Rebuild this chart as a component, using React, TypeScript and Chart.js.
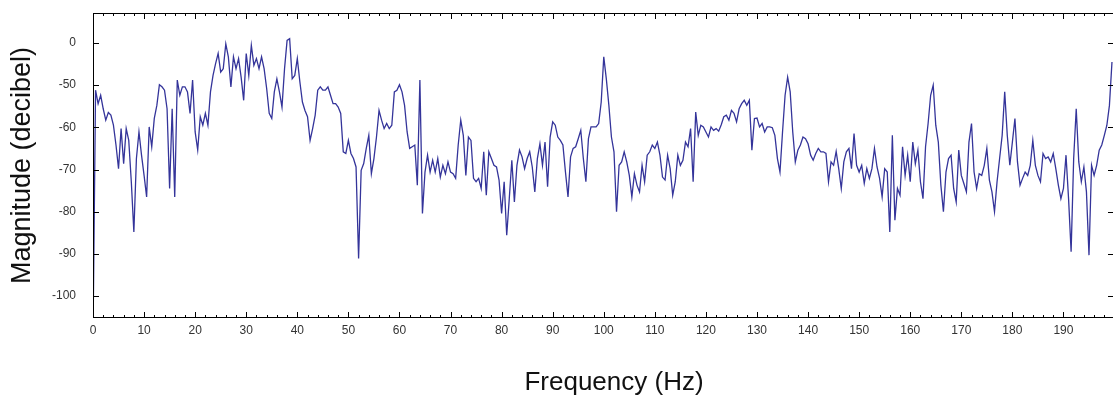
import React, { useEffect, useRef } from "react";
import { Chart, registerables } from "chart.js";

Chart.register(...registerables);

// Spectrum bins: 0.5 Hz resolution, magnitude in decibel
const binHz = 0.5;
const magnitude: number[] = [
  -110, -51.2, -54.4, -52.4, -55.6, -58.3, -56.5, -57.1, -59.5, -64.2,
  -69.8, -60.3, -68.6, -60.3, -63.1, -72.9, -84.8, -67.4, -61.1, -66.6,
  -71.4, -76.5, -59.9, -64.6, -57.9, -54.8, -49.9, -50.4, -51.2, -55.6,
  -74.5, -55.6, -76.5, -48.8, -52.4, -50.4, -50.4, -51.6, -56.7, -48.8,
  -61.1, -65.4, -57.5, -59.5, -56.7, -59.5, -51.6, -47.7, -44.9, -42.5,
  -46.9, -46.1, -40.2, -43.3, -50.4, -43.3, -46.1, -43.7, -48.1, -53.6,
  -42.5, -47.7, -40.6, -45.3, -43.7, -46.1, -43.3, -46.1, -50.8, -56.7,
  -57.9, -51.6, -48.5, -51.6, -55.2, -46.1, -39.4, -39.0, -48.5, -47.7,
  -43.7, -49.2, -54.0, -56.0, -57.5, -63.1, -60.3, -57.1, -51.2, -50.4,
  -51.2, -51.2, -50.4, -52.4, -54.4, -54.4, -55.2, -56.7, -65.8, -66.2,
  -63.1, -66.2, -67.4, -69.4, -91.1, -70.2, -68.6, -65.0, -61.9, -71.0,
  -67.4, -62.3, -56.0, -58.3, -60.3, -59.1, -60.3, -59.5, -51.6, -51.2,
  -49.9, -51.6, -54.8, -61.1, -65.0, -64.6, -64.2, -73.7, -48.8, -80.4,
  -70.6, -66.6, -70.6, -67.8, -70.6, -67.4, -71.8, -69.0, -71.0, -68.2,
  -70.6, -71.0, -72.1, -64.2, -58.3, -61.9, -71.4, -62.3, -63.1, -72.1,
  -72.9, -72.1, -74.5, -65.8, -76.1, -65.8, -67.4, -69.0, -69.4, -72.5,
  -80.4, -72.9, -85.6, -76.9, -67.8, -77.7, -69.0, -65.4, -67.0, -69.8,
  -67.4, -65.8, -69.4, -75.3, -67.4, -63.9, -69.0, -63.5, -74.1, -62.3,
  -58.7, -59.5, -62.3, -63.1, -64.2, -70.6, -76.5, -67.0, -65.0, -64.6,
  -62.7, -60.7, -67.4, -72.9, -62.7, -59.9, -59.9, -59.9, -59.1, -54.0,
  -43.3, -48.5, -54.8, -62.3, -65.8, -80.0, -69.0, -68.2, -65.8, -68.2,
  -71.4, -76.5, -71.0, -73.7, -75.3, -69.0, -72.9, -66.6, -65.8, -64.2,
  -65.0, -63.5, -66.6, -71.8, -72.5, -66.6, -69.8, -76.1, -72.9, -66.6,
  -69.0, -67.8, -63.5, -64.6, -60.3, -72.9, -56.4, -61.9, -59.5, -59.9,
  -61.1, -62.3, -59.9, -60.7, -60.3, -60.9, -59.4, -57.5, -57.1, -58.3,
  -56.0, -56.7, -58.7, -55.6, -54.4, -53.6, -54.8, -53.6, -65.4, -57.9,
  -57.8, -59.9, -59.1, -61.1, -59.9, -59.9, -60.1, -61.9, -67.4, -70.6,
  -61.1, -52.4, -48.1, -51.6, -61.1, -68.2, -65.4, -64.2, -62.3, -62.7,
  -63.9, -66.6, -67.8, -66.2, -65.0, -65.8, -65.8, -66.2, -72.9, -68.2,
  -69.0, -65.7, -69.8, -74.5, -68.2, -65.8, -65.0, -69.8, -61.5, -69.0,
  -70.6, -69.0, -73.3, -69.8, -72.1, -69.8, -65.0, -69.4, -72.1, -76.5,
  -69.8, -70.6, -84.8, -61.9, -82.0, -74.5, -76.1, -64.6, -71.4, -66.6,
  -72.9, -63.5, -68.6, -65.4, -72.9, -76.9, -64.6, -59.1, -52.4, -50.0,
  -59.5, -63.5, -73.7, -80.0, -70.6, -67.4, -66.6, -74.5, -77.7, -65.4,
  -71.4, -73.3, -75.3, -63.5, -59.1, -70.6, -74.5, -71.0, -71.4, -69.0,
  -65.0, -72.5, -75.3, -80.0, -72.9, -67.4, -61.9, -51.6, -61.9, -69.0,
  -63.5, -57.9, -68.2, -73.7, -72.1, -70.6, -71.4, -69.0, -63.1, -69.0,
  -71.4, -72.9, -66.2, -67.4, -67.0, -68.2, -66.2, -69.8, -73.7, -76.9,
  -74.5, -66.6, -76.9, -89.5, -67.4, -55.6, -68.2, -72.9, -69.4, -75.3,
  -90.3, -69.0, -71.4, -69.0, -65.4, -64.2, -61.9, -59.5, -54.8, -44.5,
];

const xMin = 0;
const xMax = 199.7;
const xMajorStep = 10;
const xMinorStep = 2;
const yMin = -105.2;
const yMax = -32.9;
const yTickValues = [-100, -90, -80, -70, -60, -50, -40];
const yTickLabels = ["-100", "-90", "-80", "-70", "-60", "-50", "0"];
const xTitle = "Frequency (Hz)";
const yTitle = "Magnitude (decibel)";

const FONT = "'Liberation Sans', Arial, Helvetica, sans-serif";

const frameTicks = {
  id: "frameTicks",
  afterDatasetsDraw(chart: any) {
    const { ctx, chartArea: a, scales } = chart;
    const xs = scales.x;
    const ys = scales.y;
    ctx.save();
    ctx.strokeStyle = "#000";
    ctx.lineWidth = 1;
    ctx.beginPath();
    // left, top and bottom frame lines (right edge lies just outside the picture)
    ctx.moveTo(a.right + 2, a.top + 0.5);
    ctx.lineTo(a.left + 0.5, a.top + 0.5);
    ctx.lineTo(a.left + 0.5, a.bottom - 0.5);
    ctx.lineTo(a.right + 2, a.bottom - 0.5);
    for (let v = xMin; v <= xs.max; v += xMinorStep) {
      const px = Math.round(xs.getPixelForValue(v)) + 0.5;
      const len = v % xMajorStep === 0 ? 6 : 3;
      ctx.moveTo(px, a.bottom);
      ctx.lineTo(px, a.bottom - len);
      ctx.moveTo(px, a.top);
      ctx.lineTo(px, a.top + len);
    }
    for (const v of yTickValues) {
      const py = Math.round(ys.getPixelForValue(v)) + 0.5;
      ctx.moveTo(a.left, py);
      ctx.lineTo(a.left + 6, py);
      ctx.moveTo(a.right + 1, py);
      ctx.lineTo(a.right - 5, py);
    }
    ctx.stroke();
    // x-axis title, placed slightly right of the plot centre as in the source
    ctx.fillStyle = "#111";
    ctx.font = `26px ${FONT}`;
    ctx.textAlign = "center";
    ctx.textBaseline = "middle";
    ctx.fillText(xTitle, (a.left + a.right) / 2 + 11, 383);
    ctx.restore();
  },
};

export default function App() {
  const ref = useRef<HTMLCanvasElement | null>(null);

  useEffect(() => {
    document.body.style.margin = "0";
    document.body.style.background = "#fff";
    const canvas = ref.current;
    if (!canvas) return;
    const points = magnitude.map((v, i) => ({ x: i * binHz, y: v }));
    const chart = new Chart(canvas, {
      type: "line",
      data: {
        datasets: [
          {
            data: points,
            borderColor: "#34349a",
            borderWidth: 1.3,
            pointRadius: 0,
            tension: 0,
            fill: false,
          },
        ],
      },
      options: {
        animation: false,
        responsive: false,
        events: [],
        layout: { padding: { top: 13, right: 0, bottom: 0, left: 0 }, autoPadding: false },
        plugins: {
          legend: { display: false },
          tooltip: { enabled: false },
        },
        scales: {
          x: {
            type: "linear",
            min: xMin,
            max: xMax,
            border: { display: false },
            grid: { display: false, drawTicks: false },
            afterFit: (s: any) => {
              s.height = 82;
              s.paddingLeft = 0;
              s.paddingRight = 0;
            },
            ticks: {
              stepSize: xMajorStep,
              includeBounds: false,
              autoSkip: false,
              maxRotation: 0,
              padding: 5,
              color: "#333",
              font: { family: FONT, size: 12 },
            },
            title: { display: false },
          },
          y: {
            type: "linear",
            min: yMin,
            max: yMax,
            border: { display: false },
            grid: { display: false, drawTicks: false },
            afterFit: (s: any) => {
              s.width = 93;
              s.paddingTop = 0;
              s.paddingBottom = 0;
            },
            afterBuildTicks: (s: any) => {
              s.ticks = yTickValues.map((v) => ({ value: v }));
            },
            ticks: {
              padding: 17,
              color: "#333",
              font: { family: FONT, size: 12 },
              callback: (value: any) => {
                const i = yTickValues.indexOf(Number(value));
                return i >= 0 ? yTickLabels[i] : "";
              },
            },
            title: {
              display: true,
              text: yTitle,
              color: "#111",
              font: { family: FONT, size: 27 },
              padding: { top: 6, bottom: 0 },
            },
          },
        },
      },
      plugins: [frameTicks],
    });
    return () => chart.destroy();
  }, []);

  return (
    <div style={{ width: 1113, height: 400, background: "#fff" }}>
      <canvas ref={ref} width={1113} height={400} style={{ display: "block" }} />
    </div>
  );
}
